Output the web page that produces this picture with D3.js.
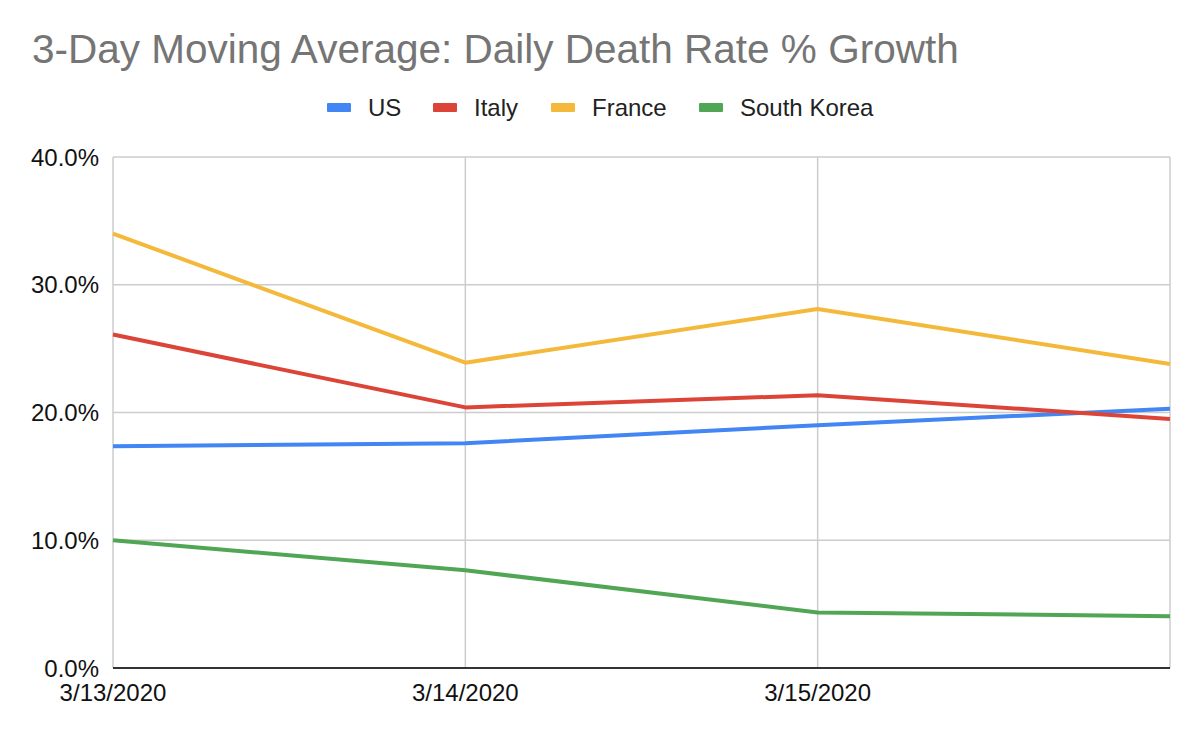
<!DOCTYPE html>
<html>
<head>
<meta charset="utf-8">
<script src="https://cdn.jsdelivr.net/npm/d3@7"></script>
<style>
  body { margin: 0; background: #fff; }
  svg { font-family: Arial, "Liberation Sans", sans-serif; }
</style>
</head>
<body>
<svg id="chart"></svg>
<script>
// data
const dates = ['3/13/2020', '3/14/2020', '3/15/2020', '3/16/2020'];
const shownDates = ['3/13/2020', '3/14/2020', '3/15/2020'];
const usVals = [17.35, 17.6, 19.0, 20.3];
const italyVals = [26.1, 20.4, 21.35, 19.5];
const franceVals = [34.0, 23.9, 28.1, 23.8];
const koreaVals = [10.0, 7.65, 4.35, 4.05];
const yTicks = [0, 10, 20, 30, 40];

const series = [
    {name: 'US', values: usVals, color: '#4285F4'},
    {name: 'Italy', values: italyVals, color: '#DB4437'},
    {name: 'France', values: franceVals, color: '#F4B93A'},
    {name: 'South Korea', values: koreaVals, color: '#51A656'}
];

const width = 1200, height = 735;
const margin = {left: 113, right: 30, top: 157, bottom: 67};

const svg = d3.select('#chart')
    .attr('width', width)
    .attr('height', height);

const x = d3.scalePoint()
    .domain(dates)
    .range([margin.left, width - margin.right]);

const y = d3.scaleLinear()
    .domain([0, 40])
    .range([height - margin.bottom, margin.top]);

// title
svg.append('text')
    .attr('x', 32)
    .attr('y', 63)
    .attr('font-size', 40.5)
    .attr('fill', '#757575')
    .text('3-Day Moving Average: Daily Death Rate % Growth');

// legend
const legendX = [327, 433, 551, 699];
const legend = svg.append('g')
    .selectAll('g')
    .data(series)
    .join('g')
    .attr('transform', (d, i) => `translate(${legendX[i]},107.5)`);
legend.append('rect')
    .attr('x', 0).attr('y', -4.5)
    .attr('width', 24).attr('height', 9)
    .attr('rx', 1)
    .attr('fill', d => d.color);
legend.append('text')
    .attr('x', 41)
    .attr('dy', '0.36em')
    .attr('font-size', 24)
    .attr('fill', '#222')
    .text(d => d.name);

// horizontal gridlines
svg.append('g')
    .selectAll('line')
    .data(yTicks.filter(t => t > 0))
    .join('line')
    .attr('x1', margin.left).attr('x2', width - margin.right)
    .attr('y1', d => y(d)).attr('y2', d => y(d))
    .attr('stroke', '#cccccc')
    .attr('stroke-width', 1.5);

// vertical gridlines
svg.append('g')
    .selectAll('line')
    .data(dates)
    .join('line')
    .attr('x1', d => x(d)).attr('x2', d => x(d))
    .attr('y1', y(40)).attr('y2', y(0))
    .attr('stroke', '#cccccc')
    .attr('stroke-width', 1.5);

// y labels
svg.append('g')
    .selectAll('text')
    .data(yTicks)
    .join('text')
    .attr('x', 99)
    .attr('y', d => y(d))
    .attr('dy', '0.36em')
    .attr('text-anchor', 'end')
    .attr('font-size', 24)
    .attr('fill', '#111')
    .text(d => d.toFixed(1) + '%');

// x labels
svg.append('g')
    .selectAll('text')
    .data(shownDates)
    .join('text')
    .attr('x', d => x(d))
    .attr('y', y(0) + 24)
    .attr('dy', '0.36em')
    .attr('text-anchor', 'middle')
    .attr('font-size', 24)
    .attr('fill', '#111')
    .text(d => d);

// lines
const line = d3.line()
    .x((d, i) => x(dates[i]))
    .y(d => y(d));

svg.append('g')
    .selectAll('path')
    .data(series)
    .join('path')
    .attr('d', d => line(d.values))
    .attr('fill', 'none')
    .attr('stroke', d => d.color)
    .attr('stroke-width', 4)
    .attr('stroke-linejoin', 'round');

// baseline
svg.append('line')
    .attr('x1', margin.left).attr('x2', width - margin.right)
    .attr('y1', y(0)).attr('y2', y(0))
    .attr('stroke', '#333')
    .attr('stroke-width', 2);
</script>
</body>
</html>
